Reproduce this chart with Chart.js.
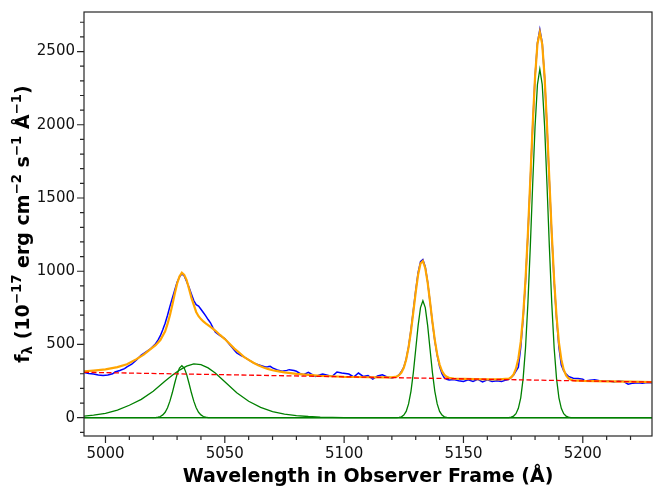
<!DOCTYPE html>
<html>
<head>
<meta charset="utf-8">
<title>Spectral fit</title>
<script src="https://cdn.jsdelivr.net/npm/chart.js@4.4.1/dist/chart.umd.min.js"></script>
<style>
  html, body { margin: 0; padding: 0; background: #fff; }
</style>
</head>
<body>
<canvas id="specChart" width="664" height="498"></canvas>
<script>
// observed spectrum (blue)
const obsWave = [
  4991, 4993, 4995, 4997, 4999, 5001, 5003, 5004, 5006, 5008,
  5009, 5011, 5013, 5015, 5017, 5019, 5021, 5022, 5023, 5024,
  5025, 5026, 5027, 5028, 5029, 5030, 5031, 5032, 5033, 5034,
  5035, 5036, 5037, 5038, 5039, 5040, 5041, 5042, 5043, 5044,
  5045, 5046, 5047, 5048, 5049, 5050, 5051, 5052, 5053, 5054,
  5055, 5056, 5057, 5058, 5059, 5061, 5062, 5064, 5066, 5067,
  5068, 5069, 5070, 5072, 5074, 5076, 5077, 5079, 5080, 5082,
  5083, 5085, 5086, 5088, 5090, 5091, 5093, 5095, 5097, 5099,
  5102, 5104, 5106, 5108, 5110, 5112, 5114, 5116, 5118, 5120,
  5122, 5123, 5124, 5125, 5126, 5127, 5128, 5129, 5130, 5131,
  5132, 5133, 5134, 5135, 5136, 5137, 5138, 5139, 5140, 5141,
  5142, 5143, 5144, 5146, 5148, 5150, 5152, 5154, 5156, 5158,
  5160, 5162, 5164, 5166, 5168, 5169, 5170, 5171, 5172, 5173,
  5174, 5175, 5176, 5177, 5178, 5179, 5180, 5181, 5182, 5183,
  5184, 5185, 5186, 5187, 5188, 5189, 5190, 5191, 5192, 5193,
  5194, 5196, 5198, 5200, 5201, 5203, 5205, 5207, 5209, 5211,
  5213, 5215, 5217, 5219, 5221, 5223, 5225, 5227, 5229
];
const obsFlux = [
  308, 302, 298, 292, 288, 292, 300, 312, 322, 335,
  347, 365, 395, 428, 450, 472, 505, 530, 560, 600,
  645, 700, 760, 815, 870, 925, 960, 982, 968, 930,
  890, 845, 800, 772, 762, 740, 718, 695, 670, 648,
  615, 585, 572, 560, 550, 540, 520, 500, 480, 460,
  443, 432, 422, 415, 405, 385, 374, 362, 352, 346,
  348, 351, 340, 326, 317, 323, 328, 322, 317, 298,
  294, 310, 300, 282, 293, 298, 290, 282, 312, 305,
  298, 278, 305, 282, 287, 264, 285, 293, 278, 271,
  280, 292, 315, 345, 400, 485, 600, 735, 870, 990,
  1065, 1080, 1030, 925, 790, 650, 525, 425, 350, 300,
  272, 262, 257, 260, 252, 248, 259, 248, 262, 244,
  259, 248, 252, 248, 258, 262, 275, 292, 318, 345,
  480, 680, 930, 1250, 1610, 1990, 2330, 2560, 2650, 2560,
  2320, 1990, 1610, 1250, 930, 680, 480, 360, 320, 298,
  282, 270, 268, 262, 250, 256, 259, 252, 248, 250,
  244, 250, 248, 229, 236, 238, 236, 240, 238
];

// total model (orange)
const fitWave = [
  4991, 4995, 5000, 5005, 5009, 5013, 5016, 5019, 5021, 5023,
  5025, 5026, 5027, 5028, 5029, 5030, 5031, 5032, 5033, 5034,
  5035, 5036, 5037, 5038, 5039, 5040, 5041, 5042, 5044, 5046,
  5048, 5050, 5052, 5054, 5056, 5058, 5060, 5062, 5064, 5066,
  5068, 5070, 5072, 5075, 5080, 5085, 5090, 5095, 5100, 5105,
  5110, 5115, 5120, 5122, 5123, 5124, 5125, 5126, 5127, 5128,
  5129, 5130, 5131, 5132, 5133, 5134, 5135, 5136, 5137, 5138,
  5139, 5140, 5141, 5142, 5143, 5144, 5146, 5150, 5155, 5160,
  5165, 5169, 5170, 5171, 5172, 5173, 5174, 5175, 5176, 5177,
  5178, 5179, 5180, 5181, 5182, 5183, 5184, 5185, 5186, 5187,
  5188, 5189, 5190, 5191, 5192, 5193, 5194, 5195, 5196, 5200,
  5210, 5220, 5229
];
const fitFlux = [
  317, 322, 330, 345, 365, 400, 430, 470, 495, 530,
  590, 640, 700, 770, 845, 915, 965, 990, 975, 940,
  880, 820, 770, 722, 693, 673, 657, 644, 620, 595,
  565, 537, 505, 472, 445, 415, 395, 375, 358, 345,
  333, 324, 318, 310, 299, 292, 286, 283, 279, 278,
  276, 275, 275, 280, 290, 308, 341, 397, 480, 590,
  722, 858, 977, 1053, 1070, 1021, 922, 791, 653, 530,
  432, 363, 318, 292, 279, 272, 267, 265, 264, 262,
  261, 267, 276, 295, 334, 403, 517, 695, 942, 1258,
  1623, 1996, 2326, 2552, 2632, 2551, 2325, 1994, 1621, 1255,
  939, 691, 513, 398, 328, 289, 269, 260, 255, 251,
  248, 246, 243
];

// continuum (red dashed)
const contWave = [4991, 5229];
const contFlux = [310, 243];

// line components (green)
const hbBroadWave = [4991, 4995, 5000, 5005, 5010, 5015, 5020, 5025, 5028, 5031, 5034, 5037, 5040,
  5043, 5046, 5050, 5055, 5060, 5065, 5070, 5075, 5080, 5085, 5090, 5095, 5100, 5229];
const hbBroadFlux = [10, 18, 30, 52, 85, 125, 180, 250, 290, 325, 352, 367, 362,
  340, 305, 245, 170, 112, 70, 42, 25, 14, 8, 4, 2, 0, 0];

const hbNarrowWave = [4991, 5020, 5021, 5022, 5023, 5024, 5025, 5026, 5027, 5028, 5029, 5030, 5031, 5032,
  5033, 5034, 5035, 5036, 5037, 5038, 5039, 5040, 5041, 5042, 5043, 5044, 5229];
const hbNarrowFlux = [0, 0, 1, 4, 8, 19, 37, 68, 113, 170, 235, 296, 339, 355,
  339, 296, 235, 170, 113, 68, 37, 19, 8, 4, 1, 0, 0];

const o4959Wave = [4991, 5122, 5123, 5124, 5125, 5126, 5127, 5128, 5129, 5130, 5131, 5132, 5133,
  5134, 5135, 5136, 5137, 5138, 5139, 5140, 5141, 5142, 5143, 5144, 5229];
const o4959Flux = [0, 0, 2, 6, 18, 43, 94, 180, 308, 467, 629, 752, 798,
  752, 629, 467, 308, 180, 94, 43, 18, 6, 2, 0, 0];

const o5007Wave = [4991, 5169, 5170, 5171, 5172, 5173, 5174, 5175, 5176, 5177, 5178, 5179, 5180, 5181, 5182,
  5183, 5184, 5185, 5186, 5187, 5188, 5189, 5190, 5191, 5192, 5193, 5194, 5195, 5229];
const o5007Flux = [0, 0, 4, 11, 27, 64, 136, 267, 476, 781, 1166, 1592, 1990, 2275, 2380,
  2275, 1990, 1592, 1166, 781, 476, 267, 136, 64, 27, 11, 4, 0, 0];

// axis ticks
const xTicks = [5000, 5050, 5100, 5150, 5200];
const yTicks = [0, 500, 1000, 1500, 2000, 2500];

const tickFont = { family: "DejaVu Sans", size: 15 };

function toPoints(wave, flux) {
  return wave.map((w, i) => ({ x: w, y: flux[i] }));
}

function lineSet(wave, flux, color, width, order, dash) {
  return {
    data: toPoints(wave, flux),
    showLine: true,
    borderColor: color,
    borderWidth: width,
    borderDash: dash || [],
    pointRadius: 0,
    fill: false,
    tension: 0,
    order: order
  };
}

// frame and minor/major tick marks, matplotlib style
const framePlugin = {
  id: "frame",
  afterDraw(chart) {
    const { ctx, chartArea: a, scales: { x, y } } = chart;
    ctx.save();
    ctx.strokeStyle = "#262626";
    ctx.lineWidth = 1.2;
    ctx.strokeRect(a.left, a.top, a.right - a.left, a.bottom - a.top);
    ctx.beginPath();
    for (let v = Math.ceil(x.min / 10) * 10; v <= x.max; v += 10) {
      const px = x.getPixelForValue(v);
      const len = v % 50 === 0 ? 7 : 4;
      ctx.moveTo(px, a.bottom);
      ctx.lineTo(px, a.bottom + len);
    }
    for (let v = Math.ceil(y.min / 100) * 100; v <= y.max; v += 100) {
      const py = y.getPixelForValue(v);
      const len = v % 500 === 0 ? 7 : 4;
      ctx.moveTo(a.left, py);
      ctx.lineTo(a.left - len, py);
    }
    ctx.stroke();
    ctx.restore();
  }
};

// y axis title with sub/superscripts
const yLabelPlugin = {
  id: "yLabel",
  afterDraw(chart) {
    const ctx = chart.ctx;
    const a = chart.chartArea;
    const size = 19;
    const parts = [
      ["f", 1, 0], ["λ", 0.7, 0.18], [" (10", 1, 0], ["−17", 0.7, -0.42],
      [" erg cm", 1, 0], ["−2", 0.7, -0.42], [" s", 1, 0], ["−1", 0.7, -0.42],
      [" Å", 1, 0], ["−1", 0.7, -0.42], [")", 1, 0]
    ];
    ctx.save();
    ctx.translate(22, (a.top + a.bottom) / 2);
    ctx.rotate(-Math.PI / 2);
    ctx.fillStyle = "#000";
    ctx.textBaseline = "alphabetic";
    let total = 0;
    parts.forEach(p => {
      ctx.font = `bold ${size * p[1]}px "DejaVu Sans"`;
      total += ctx.measureText(p[0]).width;
    });
    let pos = -total / 2;
    const base = size * 0.36;
    parts.forEach(p => {
      ctx.font = `bold ${size * p[1]}px "DejaVu Sans"`;
      ctx.fillText(p[0], pos, base + p[2] * size);
      pos += ctx.measureText(p[0]).width;
    });
    ctx.restore();
  }
};

new Chart(document.getElementById("specChart"), {
  type: "scatter",
  data: {
    datasets: [
      lineSet(contWave, contFlux, "#ff0000", 1.3, 0, [5, 2.5]),
      lineSet(hbBroadWave, hbBroadFlux, "#008000", 1.3, 1),
      lineSet(hbNarrowWave, hbNarrowFlux, "#008000", 1.3, 1),
      lineSet(o4959Wave, o4959Flux, "#008000", 1.3, 1),
      lineSet(o5007Wave, o5007Flux, "#008000", 1.3, 1),
      lineSet(fitWave, fitFlux, "#ffa500", 2.2, 2),
      lineSet(obsWave, obsFlux, "#0000ff", 1.5, 3)
    ]
  },
  options: {
    responsive: false,
    animation: false,
    layout: { padding: { top: 12, right: 12, left: 0, bottom: 0 } },
    plugins: { legend: { display: false }, tooltip: { enabled: false } },
    scales: {
      x: {
        type: "linear",
        min: 4991,
        max: 5229,
        grid: { display: false, drawTicks: true, tickLength: 7 },
        border: { display: false },
        ticks: {
          font: tickFont, color: "#111", padding: 2, maxRotation: 0, autoSkip: false,
          callback: v => String(v)
        },
        afterBuildTicks: s => { s.ticks = xTicks.map(v => ({ value: v })); },
        afterFit: s => { s.height = 62; },
        title: {
          display: true,
          text: "Wavelength in Observer Frame (Å)",
          color: "#000",
          font: { family: "DejaVu Sans", size: 19, weight: "bold" },
          padding: { top: 0, bottom: 10 }
        }
      },
      y: {
        type: "linear",
        min: -125,
        max: 2770,
        grid: { display: false, drawTicks: true, tickLength: 7 },
        border: { display: false },
        ticks: {
          font: tickFont, color: "#111", padding: 2, autoSkip: false,
          callback: v => String(v)
        },
        afterBuildTicks: s => { s.ticks = yTicks.map(v => ({ value: v })); },
        afterFit: s => { s.width = 84; }
      }
    }
  },
  plugins: [framePlugin, yLabelPlugin]
});
</script>
</body>
</html>
